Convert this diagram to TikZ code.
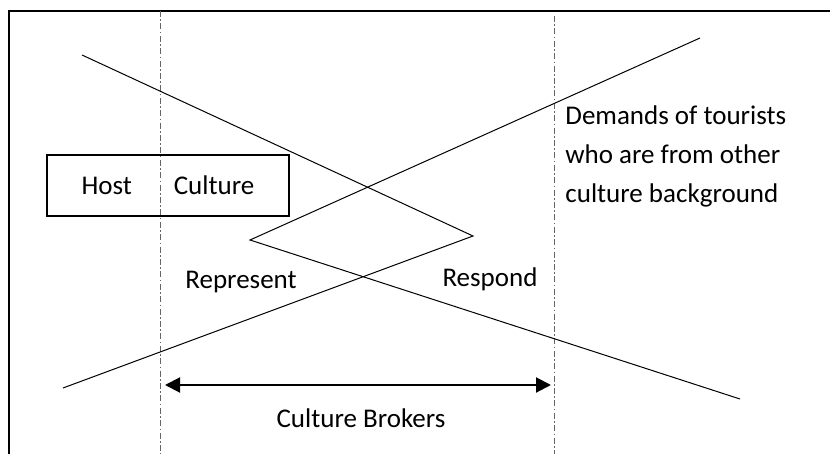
\documentclass[tikz,border=0pt]{standalone}
\usepackage{fontspec}
\setmainfont{Carlito}
\usetikzlibrary{arrows.meta}
\begin{document}
\begin{tikzpicture}[x=0.5pt,y=-0.5pt]
	\tikzstyle{txt}=[font=\fontsize{13.5}{19.5}\selectfont,inner sep=0pt]
	\tikzstyle{box}=[rectangle,draw,line width=0.8pt,minimum width=121pt,minimum height=30.5pt,inner sep=0pt]
	\tikzstyle{divider}=[gray!80!black,line width=0.5pt,dash pattern=on 3pt off 1.2pt on 0.8pt off 1.2pt]
	\tikzstyle{strand}=[line width=0.5pt]
	\tikzstyle{span}=[line width=1pt,{Triangle[length=7.5pt,width=7.5pt]}-{Triangle[length=7.5pt,width=7.5pt]}]
	\useasboundingbox (0,0) rectangle (830,454);
	\draw [line width=1.2pt] (9,454) -- (9,11) -- (830,11);
	\draw [divider] (160,11) -- (160,454);
	\draw [divider] (554,16) -- (554,454);
	\coordinate (host top)   at (82,55);
	\coordinate (host tip)   at (473,236);
	\coordinate (host end)   at (63,388);
	\coordinate (guest top)  at (700,38);
	\coordinate (guest tip)  at (250,240);
	\coordinate (guest end)  at (740,399);
	\draw [strand] (host top) -- (host tip) -- (host end);
	\draw [strand] (guest top) -- (guest tip) -- (guest end);
	\node (host)      at (168,185.5) [box,txt] {Host\hspace{1.55em}Culture};
	\node (represent) at (241,282)   [txt] {Represent};
	\node (respond)   at (490,279)   [txt] {Respond};
	\node (demands)   at (565,105)   [txt,anchor=north west,align=left] {Demands of tourists\\who are from other\\culture background};
	\coordinate (broker left)  at (165,385);
	\coordinate (broker right) at (551,385);
	\draw [span] (broker left) -- (broker right);
	\node (brokers)   at (361,418)   [txt] {Culture Brokers};
\end{tikzpicture}
\end{document}
